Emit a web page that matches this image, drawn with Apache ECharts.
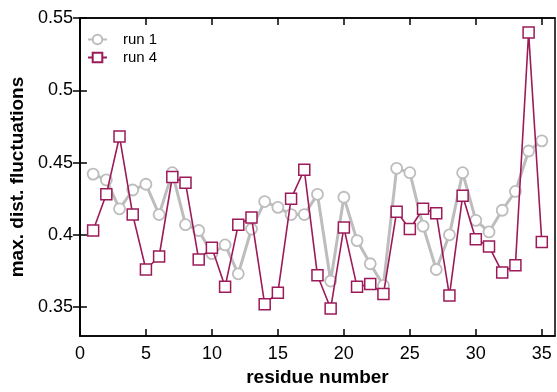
<!DOCTYPE html>
<html><head><meta charset="utf-8">
<script src="https://cdn.jsdelivr.net/npm/echarts@6/dist/echarts.min.js"></script>
<style>html,body{margin:0;padding:0;background:#fff}#c{width:557px;height:392px}</style>
</head><body><div id="c"></div>
<script>
const residues = [1,2,3,4,5,6,7,8,9,10,11,12,13,14,15,16,17,18,19,20,21,22,23,24,25,26,27,28,29,30,31,32,33,34,35];
const run1 = [0.442,0.438,0.418,0.431,0.435,0.414,0.443,0.407,0.403,0.387,0.393,0.373,0.404,0.423,0.419,0.414,0.414,0.428,0.368,0.426,0.396,0.380,0.365,0.446,0.443,0.406,0.376,0.400,0.443,0.410,0.402,0.417,0.430,0.458,0.465];
const run4 = [0.403,0.428,0.468,0.414,0.376,0.385,0.440,0.436,0.383,0.391,0.364,0.407,0.412,0.352,0.360,0.425,0.445,0.372,0.349,0.405,0.364,0.366,0.359,0.416,0.404,0.418,0.415,0.358,0.427,0.397,0.392,0.374,0.379,0.540,0.395];
const xTicks = [0,5,10,15,20,25,30,35];
const yTicks = [0.35,0.4,0.45,0.5,0.55];
const seriesNames = ['run 1','run 4'];

const FONT = 'Liberation Sans, Arial, Helvetica, sans-serif';
const chart = echarts.init(document.getElementById('c'), null, {renderer:'canvas'});
const pair = (vals) => residues.map((r,i)=>[r, vals[i]]);
const tickCommon = {inside:true, length:7, lineStyle:{color:'#000', width:1.5}};
chart.setOption({
  animation:false,
  grid:{left:75, right:2, top:18, bottom:51, show:true, borderColor:'#000', borderWidth:1.5, containLabel:false},
  legend:{
    orient:'vertical', left:82, top:27, itemWidth:19, itemHeight:12, itemGap:3,
    data:seriesNames,
    textStyle:{fontFamily:FONT, fontSize:15, color:'#000', padding:[0,0,0,11]}
  },
  xAxis:[{
    type:'value', min:0, max:36, position:'bottom',
    name:'residue number', nameLocation:'middle', nameGap:32,
    nameTextStyle:{fontFamily:FONT, fontSize:19, fontWeight:'bold', color:'#000'},
    axisLine:{show:true, lineStyle:{color:'#000', width:1.5}},
    axisTick:Object.assign({customValues:xTicks}, tickCommon),
    axisLabel:{customValues:xTicks, fontFamily:FONT, fontSize:18, color:'#000', margin:9},
    splitLine:{show:false}
  },{
    type:'value', min:0, max:36, position:'top',
    axisLine:{show:true, lineStyle:{color:'#000', width:1.5}},
    axisTick:Object.assign({customValues:xTicks}, tickCommon),
    axisLabel:{show:false}, splitLine:{show:false}
  }],
  yAxis:[{
    type:'value', min:0.33, max:0.55, position:'left',
    name:'max. dist. fluctuations', nameLocation:'middle', nameGap:42,
    nameTextStyle:{fontFamily:FONT, fontSize:19, fontWeight:'bold', color:'#000'},
    axisLine:{show:true, lineStyle:{color:'#000', width:1.5}},
    axisTick:Object.assign({customValues:yTicks}, tickCommon),
    axisLabel:{customValues:yTicks, fontFamily:FONT, fontSize:18, color:'#000', margin:7},
    splitLine:{show:false}
  },{
    type:'value', min:0.33, max:0.55, position:'right',
    axisLine:{show:true, lineStyle:{color:'#000', width:1.5}},
    axisTick:Object.assign({customValues:yTicks}, tickCommon),
    axisLabel:{show:false}, splitLine:{show:false}
  }],
  series:[{
    name:seriesNames[0], type:'line', data:pair(run1),
    symbol:'circle', symbolSize:11,
    lineStyle:{color:'#bdbdbd', width:3},
    itemStyle:{color:'#fff', borderColor:'#bdbdbd', borderWidth:1.8},
    color:'#bdbdbd', z:2
  },{
    name:seriesNames[1], type:'line', data:pair(run4),
    symbol:'rect', symbolSize:11,
    lineStyle:{color:'#9c1a58', width:1.6},
    itemStyle:{color:'#fff', borderColor:'#9c1a58', borderWidth:1.5},
    color:'#9c1a58', z:3
  }]
});
</script></body></html>
